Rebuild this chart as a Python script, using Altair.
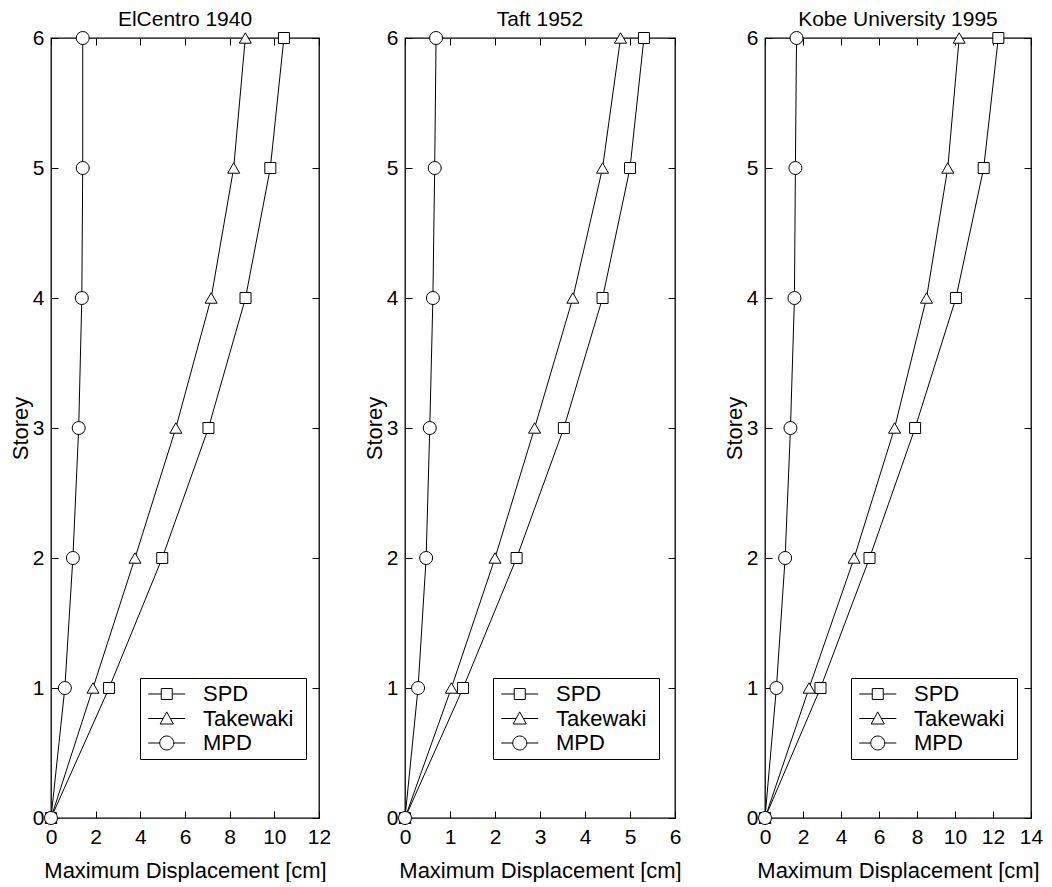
import altair as alt
import pandas as pd

FONT = "Liberation Sans"

storeys = [0, 1, 2, 3, 4, 5, 6]
series_names = ["SPD", "Takewaki", "MPD"]

# ElCentro 1940
elcentro_spd = [0, 2.60, 4.98, 7.05, 8.71, 9.82, 10.43]
elcentro_takewaki = [0, 1.88, 3.76, 5.59, 7.17, 8.18, 8.70]
elcentro_mpd = [0, 0.62, 0.98, 1.24, 1.38, 1.42, 1.42]

# Taft 1952
taft_spd = [0, 1.29, 2.48, 3.53, 4.39, 5.00, 5.31]
taft_takewaki = [0, 1.03, 2.00, 2.88, 3.73, 4.39, 4.79]
taft_mpd = [0, 0.29, 0.47, 0.55, 0.62, 0.66, 0.69]

# Kobe University 1995
kobe_spd = [0, 2.92, 5.50, 7.90, 10.05, 11.51, 12.28]
kobe_takewaki = [0, 2.32, 4.69, 6.82, 8.50, 9.62, 10.22]
kobe_mpd = [0, 0.60, 1.06, 1.34, 1.55, 1.60, 1.66]

titles = ["ElCentro 1940", "Taft 1952", "Kobe University 1995"]
x_max = [12, 6, 14]
x_step = [2, 1, 2]
y_ticks = [0, 1, 2, 3, 4, 5, 6]

plot_shapes = ["square", "triangle-up", "circle"]
plot_sizes = [121, 169, 196]

# legend symbols: line with marker (custom paths, unit = 11 px at size 484);
# the trailing zero-length segment only widens the legend box to the right
legend_paths = [
    "M-1.682,0L-0.5,0M0.5,0L1.682,0M-0.5,-0.5L0.5,-0.5L0.5,0.5L-0.5,0.5ZM12,0L12,0",
    "M-1.682,0L-0.327,0M0.327,0L1.682,0M0,-0.6L0.6,0.5L-0.6,0.5ZM12,0L12,0",
    "M-1.682,0L-0.636,0M0.636,0L1.682,0M-0.636,0A0.636,0.636,0,1,0,0.636,0A0.636,0.636,0,1,0,-0.636,0ZM12,0L12,0",
]

TICK = 7
PLOT_H = 780


def panel(title, spd, take, mpd, xmax, xstep, width, legend_x):
    rows = []
    for name, vals in zip(series_names, [spd, take, mpd]):
        for s, v in zip(storeys, vals):
            rows.append({"series": name, "storey": s, "disp": v})
    df = pd.DataFrame(rows)
    xticks = list(range(0, xmax + 1, xstep))
    xscale = alt.Scale(domain=[0, xmax], nice=False, zero=True)
    yscale = alt.Scale(domain=[0, 6], nice=False)

    base = alt.Chart(df)
    line = base.mark_line(color="black", strokeWidth=1).encode(
        x=alt.X("disp:Q", scale=xscale, axis=alt.Axis(
            orient="bottom", values=xticks, tickSize=TICK, offset=-TICK,
            domain=False, grid=False, labelPadding=8, labelFontSize=21,
            labelFlush=False, minExtent=0,
            title="Maximum Displacement [cm]", titleFontSize=22,
            titleFontWeight="normal", titlePadding=13)),
        y=alt.Y("storey:Q", scale=yscale, axis=alt.Axis(
            orient="left", values=y_ticks, tickSize=TICK, offset=-TICK,
            domain=False, grid=False, labelPadding=7, labelFontSize=21,
            labelFlush=False, minExtent=0,
            title="Storey", titleFontSize=22, titleFontWeight="normal",
            titlePadding=0)),
        detail="series:N",
        order="storey:Q",
    )
    pts = base.mark_point(filled=True, fill="white", stroke="black",
                          strokeWidth=1, opacity=1).encode(
        x=alt.X("disp:Q", scale=xscale, axis=None),
        y=alt.Y("storey:Q", scale=yscale, axis=None),
        shape=alt.Shape("series:N", scale=alt.Scale(domain=series_names, range=plot_shapes), legend=None),
        size=alt.Size("series:O", scale=alt.Scale(domain=series_names, range=plot_sizes), legend=None),
    )
    carrier = base.transform_filter("false").mark_point(
        filled=False, stroke="black", strokeWidth=1).encode(
        x=alt.X("disp:Q", scale=xscale, axis=alt.Axis(
            orient="top", values=xticks, tickSize=TICK, offset=-TICK,
            domain=False, grid=False, labels=False, title=None,
            minExtent=0, maxExtent=0)),
        y=alt.Y("storey:Q", scale=yscale, axis=alt.Axis(
            orient="right", values=y_ticks, tickSize=TICK, offset=-TICK,
            domain=False, grid=False, labels=False, title=None,
            minExtent=0, maxExtent=0)),
        shape=alt.Shape("series:N", scale=alt.Scale(domain=series_names, range=legend_paths),
                        legend=alt.Legend(
                            title=None, orient="none", legendX=legend_x,
                            legendY=round(PLOT_H * (1 - 1.077 / 6)),
                            strokeColor="black", fillColor="white", padding=4.5,
                            labelFontSize=22, labelFont=FONT, labelColor="black",
                            symbolSize=484, symbolStrokeColor="black",
                            symbolStrokeWidth=1, symbolFillColor="white",
                            symbolOpacity=1, symbolOffset=10.75, labelOffset=24.75,
                            rowPadding=1.5)),
    )
    return alt.layer(line, pts, carrier).resolve_scale(
        shape="independent", size="independent"
    ).resolve_axis(x="independent", y="independent").properties(
        width=width, height=PLOT_H,
        title=alt.TitleParams(title, fontSize=21, fontWeight="normal",
                              font=FONT, color="black", offset=-3),
    )


p1 = panel(titles[0], elcentro_spd, elcentro_takewaki, elcentro_mpd, x_max[0], x_step[0], 268, 89)
p2 = panel(titles[1], taft_spd, taft_takewaki, taft_mpd, x_max[1], x_step[1], 270, 88)
p3 = panel(titles[2], kobe_spd, kobe_takewaki, kobe_mpd, x_max[2], x_step[2], 266, 86)

left_pair = alt.hconcat(p1, p2, spacing=30).resolve_scale(
    shape="independent", size="independent")

chart = alt.hconcat(left_pair, p3, spacing=40).resolve_scale(
    shape="independent", size="independent"
).properties(
    padding={"left": 0, "top": 0, "right": 0, "bottom": 0}
).configure_view(
    stroke="black", strokeWidth=1.3
).configure_axis(
    labelFont=FONT, titleFont=FONT, labelColor="black", titleColor="black",
    tickColor="black", tickWidth=1
)

chart.save("out.html", embed_options={"renderer": "svg", "actions": False})
